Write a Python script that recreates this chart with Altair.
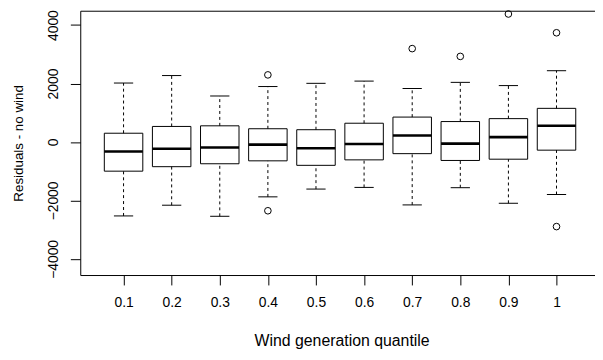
import altair as alt
import pandas as pd

# Wind generation quantile groups
quantiles = ['0.1', '0.2', '0.3', '0.4', '0.5', '0.6', '0.7', '0.8', '0.9', '1']
lower_whisker = [-2530, -2163, -2542, -1877, -1611, -1554, -2153, -1564, -2097, -1797]
q1 = [-998, -845, -745, -645, -799, -612, -399, -632, -589, -280]
median = [-323, -233, -190, -90, -213, -67, 220, -57, 166, 553]
q3 = [300, 532, 553, 453, 420, 642, 852, 699, 799, 1151]
upper_whisker = [2017, 2273, 1574, 1897, 2007, 2083, 1830, 2040, 1930, 2439]

outlier_group = ['0.4', '0.4', '0.7', '0.8', '0.9', '1', '1']
outlier_value = [2296, -2353, 3195, 2928, 4379, 3737, -2895]

y_ticks = [-4000, -2000, 0, 2000, 4000]

boxes = pd.DataFrame({
    'quantile': quantiles,
    'pos': list(range(1, len(quantiles) + 1)),
    'lower': lower_whisker,
    'q1': q1,
    'median': median,
    'q3': q3,
    'upper': upper_whisker,
})
outliers = pd.DataFrame({
    'quantile': outlier_group,
    'pos': [quantiles.index(g) + 1 for g in outlier_group],
    'value': outlier_value,
})

FONT = 'Liberation Sans'
xscale = alt.Scale(domain=[0.1, 10.8], nice=False, zero=False)
yscale = alt.Scale(domain=[-4552, 4491], nice=False, zero=False)

label_expr = '[' + ','.join("'%s'" % q for q in quantiles) + '][datum.value - 1]'

x_axis = alt.Axis(
    values=list(range(1, len(quantiles) + 1)), labelExpr=label_expr,
    tickSize=10, tickColor='black', domainColor='black', grid=False,
    labelFont=FONT, labelFontSize=14, labelColor='black', labelPadding=11,
    title='Wind generation quantile', titleFont=FONT, titleFontSize=16,
    titleFontWeight='normal', titleColor='black', titleBaseline='alphabetic',
    titleAlign='center', titleX=264, titleY=71.5,
)
y_axis = alt.Axis(
    values=y_ticks, format='d', tickSize=10, tickColor='black', domainColor='black',
    grid=False, labelFont=FONT, labelFontSize=14, labelColor='black',
    labelAngle=270, labelAlign='center', labelBaseline='alphabetic', labelPadding=13,
    labelOverlap=False,
    title='Residuals - no wind', titleFont=FONT, titleFontSize=13.5,
    titleFontWeight='normal', titleColor='black', titleAngle=270,
    titleAlign='center', titleBaseline='alphabetic', titleX=-58,
)
top_axis = alt.Axis(orient='top', labels=False, ticks=False, domain=True,
                    domainColor='black', grid=False, title=None)

base = alt.Chart(boxes).transform_calculate(
    xl='datum.pos - 0.4', xr='datum.pos + 0.4',
    cl='datum.pos - 0.2', cr='datum.pos + 0.2',
)

box = base.mark_rect(fill='white', stroke='black', strokeWidth=1).encode(
    x=alt.X('xl:Q', scale=xscale, axis=x_axis), x2='xr:Q',
    y=alt.Y('q1:Q', scale=yscale, axis=y_axis), y2='q3:Q',
)
whisk_lo = base.mark_rule(color='black', strokeWidth=1, strokeDash=[3, 3]).encode(
    x=alt.X('pos:Q', scale=xscale, axis=None),
    y=alt.Y('lower:Q', scale=yscale, axis=y_axis),
    y2='q1:Q',
)
whisk_hi = base.mark_rule(color='black', strokeWidth=1, strokeDash=[3, 3]).encode(
    x=alt.X('pos:Q', scale=xscale, axis=None),
    y=alt.Y('q3:Q', scale=yscale, axis=y_axis),
    y2='upper:Q',
)
cap_lo = base.mark_rule(color='black', strokeWidth=1).encode(
    x=alt.X('cl:Q', scale=xscale, axis=None), x2='cr:Q',
    y=alt.Y('lower:Q', scale=yscale, axis=y_axis),
)
cap_hi = base.mark_rule(color='black', strokeWidth=1).encode(
    x=alt.X('cl:Q', scale=xscale, axis=None), x2='cr:Q',
    y=alt.Y('upper:Q', scale=yscale, axis=y_axis),
)
med = base.mark_rule(color='black', strokeWidth=2.6).encode(
    x=alt.X('xl:Q', scale=xscale, axis=None), x2='xr:Q',
    y=alt.Y('median:Q', scale=yscale, axis=y_axis),
)
pts = alt.Chart(outliers).mark_point(shape='circle', filled=False, color='black',
                                     size=45, strokeWidth=1, opacity=1).encode(
    x=alt.X('pos:Q', scale=xscale, axis=top_axis),
    y=alt.Y('value:Q', scale=yscale, axis=y_axis),
)

chart = alt.layer(box, whisk_lo, whisk_hi, cap_lo, cap_hi, med, pts).resolve_axis(
    x='independent'
).properties(
    width=520, height=267,
    autosize=alt.AutoSizeParams(type='none'),
    padding={'left': 73, 'top': 1, 'right': 0, 'bottom': 76},
).configure_view(stroke=None)

chart.save('out.html', embed_options={'renderer': 'svg', 'actions': False})
